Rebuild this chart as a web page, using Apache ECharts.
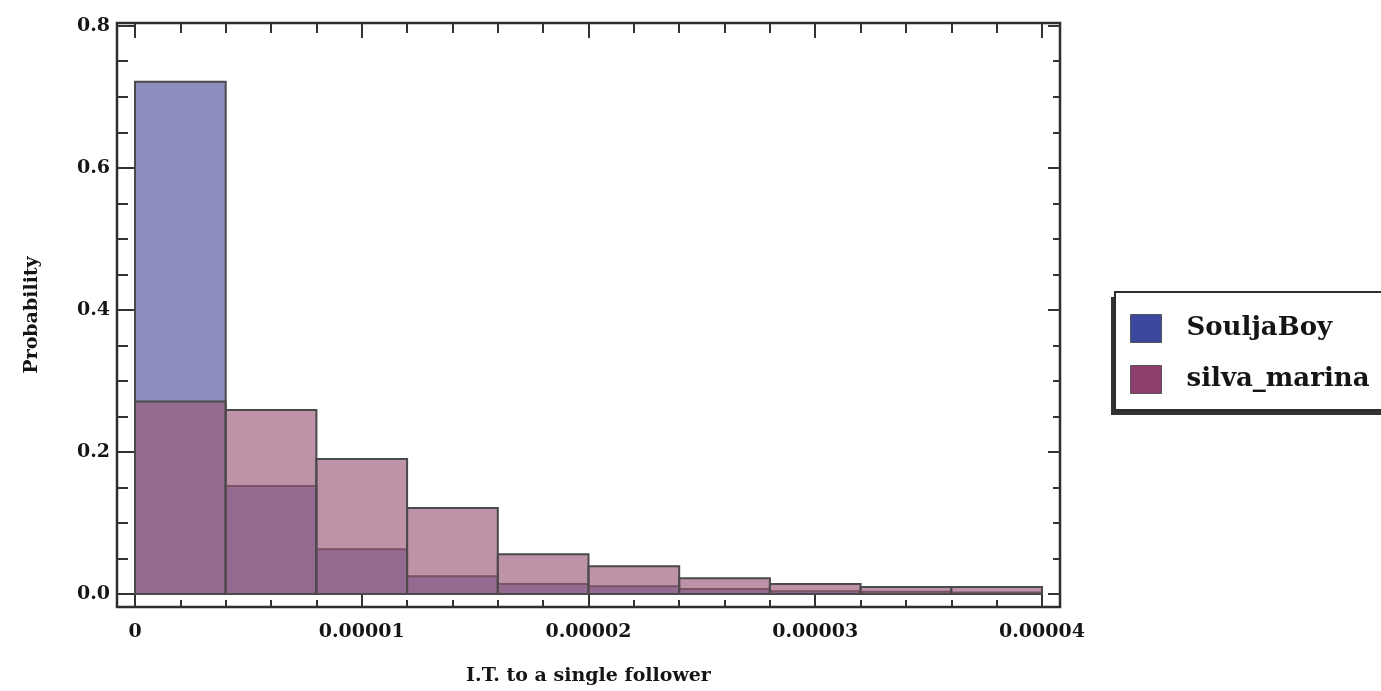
<!DOCTYPE html>
<html>
<head>
<meta charset="utf-8">
<script src="https://cdn.jsdelivr.net/npm/echarts@6/dist/echarts.min.js"></script>
<style>
html,body{margin:0;padding:0;background:#fff;}
#chart{width:1381px;height:691px;}
</style>
</head>
<body>
<div id="chart"></div>
<script>
// ---- data ----
const binEdges = [0, 0.000004, 0.000008, 0.000012, 0.000016, 0.00002, 0.000024, 0.000028, 0.000032, 0.000036, 0.00004];
const seriesNames = ['SouljaBoy', 'silva_marina'];
const souljaBoy = [0.721, 0.152, 0.063, 0.025, 0.014, 0.011, 0.007, 0.004, 0.003, 0.002];
const silvaMarina = [0.271, 0.259, 0.190, 0.121, 0.056, 0.039, 0.022, 0.014, 0.010, 0.010];
const xTickValues = [0, 0.00001, 0.00002, 0.00003, 0.00004];
const xTickLabels = ['0', '0.00001', '0.00002', '0.00003', '0.00004'];
const yTickValues = [0, 0.2, 0.4, 0.6, 0.8];
const yTickLabels = ['0.0', '0.2', '0.4', '0.6', '0.8'];
const xTitle = 'I.T. to a single follower';
const yTitle = 'Probability';

// ---- minor tick positions ----
const xMinor = [];
for (let i = 0; i <= 20; i++) { if (i % 5 !== 0) xMinor.push(i * 0.000002); }
const yMinor = [];
for (let i = 0; i <= 16; i++) { if (i % 4 !== 0) yMinor.push(+(i * 0.05).toFixed(2)); }

const X_MIN = -0.000000794, X_MAX = 0.000040794;
const Y_MIN = -0.0183, Y_MAX = 0.8038;
const FONT = 'DejaVu Serif';
const TXT = '#151515';
const TICKC = '#333';

function toBins(vals) {
  return vals.map((v, i) => [binEdges[i], binEdges[i + 1], v]);
}
function makeRender(fill) {
  return function (params, api) {
    const x0 = api.value(0), x1 = api.value(1), v = api.value(2);
    const p0 = api.coord([x0, v]);
    const p1 = api.coord([x1, 0]);
    return {
      type: 'rect',
      shape: { x: p0[0], y: p0[1], width: p1[0] - p0[0], height: p1[1] - p0[1] },
      style: { fill: fill, stroke: '#4a4a4a', lineWidth: 2 }
    };
  };
}
function xAx(pos, values, len, labels) {
  return {
    type: 'value', position: pos, min: X_MIN, max: X_MAX,
    axisLine: { show: false, onZero: false },
    splitLine: { show: false },
    axisTick: { show: true, inside: true, length: len, customValues: values, lineStyle: { color: TICKC, width: 2 } },
    axisLabel: labels ? {
      show: true, customValues: values, margin: 16,
      fontFamily: FONT, fontWeight: 'bold', fontSize: 19, color: TXT,
      formatter: function (v) { const i = xTickValues.findIndex(t => Math.abs(t - v) < 1e-9); return i >= 0 ? xTickLabels[i] : ''; }
    } : { show: false }
  };
}
function yAx(pos, values, len, labels) {
  return {
    type: 'value', position: pos, min: Y_MIN, max: Y_MAX,
    axisLine: { show: false, onZero: false },
    splitLine: { show: false },
    axisTick: { show: true, inside: true, length: len, customValues: values, lineStyle: { color: TICKC, width: 2 } },
    axisLabel: labels ? {
      show: true, customValues: values, margin: 7,
      fontFamily: FONT, fontWeight: 'bold', fontSize: 19, color: TXT,
      formatter: function (v) { const i = yTickValues.findIndex(t => Math.abs(t - v) < 1e-6); return i >= 0 ? yTickLabels[i] : ''; }
    } : { show: false }
  };
}

const xAxes = [
  Object.assign(xAx('bottom', xTickValues, 12, true), {
    name: xTitle, nameLocation: 'middle', nameGap: 60,
    nameTextStyle: { fontFamily: FONT, fontWeight: 'bold', fontSize: 19, color: TXT }
  }),
  xAx('bottom', xMinor, 7, false),
  xAx('top', xTickValues, 15, false),
  xAx('top', xMinor, 10, false)
];
const yAxes = [
  Object.assign(yAx('left', yTickValues, 17, true), {
    name: yTitle, nameLocation: 'middle', nameGap: 75,
    nameTextStyle: { fontFamily: FONT, fontWeight: 'bold', fontSize: 19, color: TXT }
  }),
  yAx('left', yMinor, 11, false),
  yAx('right', yTickValues, 12, false),
  yAx('right', yMinor, 7, false)
];

const chart = echarts.init(document.getElementById('chart'), null, { renderer: 'canvas' });
chart.setOption({
  animation: false,
  backgroundColor: '#fff',
  grid: { left: 117, top: 23, right: 321, bottom: 83, show: true, borderColor: '#2e2e2e', borderWidth: 2.5, backgroundColor: 'transparent' },
  xAxis: xAxes,
  yAxis: yAxes,
  graphic: [{
    type: 'rect', z: 1, silent: true,
    shape: { x: 1111, y: 297, width: 300, height: 118 },
    style: { fill: '#333' }
  }],
  legend: {
    show: true, z: 5,
    left: 1115, top: 292,
    orient: 'vertical',
    icon: 'rect',
    itemWidth: 31, itemHeight: 28, itemGap: 22,
    padding: [22, 80, 16, 15],
    backgroundColor: '#fff',
    borderColor: '#2e2e2e', borderWidth: 2,
    selectedMode: false,
    textStyle: { fontFamily: FONT, fontWeight: 'bold', fontSize: 26, color: TXT, padding: [0, 0, 0, 20] },
    data: [
      { name: seriesNames[0], itemStyle: { color: '#3c479e', borderColor: '#555', borderWidth: 1 } },
      { name: seriesNames[1], itemStyle: { color: '#8c3f6d', borderColor: '#555', borderWidth: 1 } }
    ]
  },
  series: [
    {
      name: seriesNames[0], type: 'custom', xAxisIndex: 0, yAxisIndex: 0,
      renderItem: makeRender('#8d8fc0'),
      itemStyle: { color: '#3c479e' },
      encode: { x: [0, 1], y: 2 },
      data: toBins(souljaBoy)
    },
    {
      name: seriesNames[1], type: 'custom', xAxisIndex: 0, yAxisIndex: 0,
      renderItem: makeRender('rgba(153,86,119,0.64)'),
      itemStyle: { color: '#8c3f6d' },
      encode: { x: [0, 1], y: 2 },
      data: toBins(silvaMarina)
    }
  ]
});
</script>
</body>
</html>
